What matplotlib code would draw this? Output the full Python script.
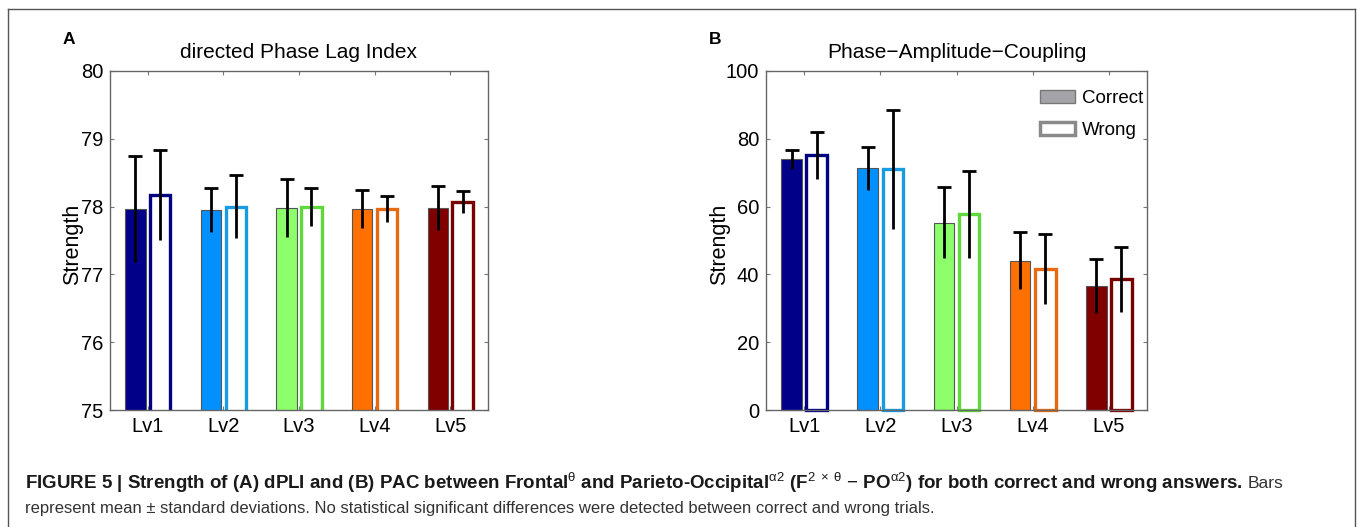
import matplotlib
matplotlib.use('Agg')
import matplotlib.pyplot as plt
from matplotlib.lines import Line2D
from matplotlib.patches import Patch
import numpy as np

plt.rcParams['font.family'] = ['Liberation Sans', 'DejaVu Sans']
plt.rcParams['mathtext.fontset'] = 'custom'
plt.rcParams['mathtext.rm'] = 'Liberation Sans'
plt.rcParams['mathtext.it'] = 'Liberation Sans'
plt.rcParams['mathtext.bf'] = 'Liberation Sans:bold'

levels = ['Lv1', 'Lv2', 'Lv3', 'Lv4', 'Lv5']
fill_colors = ['#000088', '#0090ff', '#8cff6a', '#ff7000', '#800000']
edge_colors = ['#000080', '#1a9be0', '#5fd83c', '#e66a12', '#780000']

# directed Phase Lag Index
dpli_correct = [77.96, 77.95, 77.98, 77.97, 77.98]
dpli_correct_sd = [0.78, 0.32, 0.43, 0.28, 0.33]
dpli_wrong = [78.17, 78.00, 78.00, 77.97, 78.07]
dpli_wrong_sd = [0.66, 0.46, 0.28, 0.19, 0.16]

# Phase-Amplitude-Coupling
pac_correct = [74.0, 71.3, 55.3, 44.1, 36.6]
pac_correct_sd = [2.8, 6.4, 10.6, 8.4, 7.9]
pac_wrong = [75.1, 71.0, 57.7, 41.6, 38.5]
pac_wrong_sd = [6.9, 17.5, 12.8, 10.4, 9.6]


def draw_panel(ax, correct, csd, wrong, wsd, ylim, yticks, title, clip, labx):
    x = np.arange(1, len(levels) + 1)
    w = 0.27
    off = 0.165
    ax.bar(x - off, correct, w, color=fill_colors, edgecolor='#555555',
           linewidth=0.8, zorder=2, clip_on=clip)
    ax.bar(x + off, wrong, w, color='white', edgecolor=edge_colors,
           linewidth=2.4, zorder=2, clip_on=clip)
    for xs, vals, sds in [(x - off, correct, csd), (x + off, wrong, wsd)]:
        _, caps, _ = ax.errorbar(xs, vals, yerr=sds, fmt='none', ecolor='black',
                                 elinewidth=2, capsize=5, capthick=2, zorder=3)
        for cap in caps:
            if np.mean(cap.get_ydata()) < np.mean(vals):
                cap.set_visible(False)
    ax.set_xlim(0.5, 5.5)
    ax.set_ylim(*ylim)
    ax.set_yticks(yticks)
    ax.set_xticks(x)
    ax.set_xticklabels(levels)
    ax.tick_params(direction='in', length=3, top=True, right=True,
                   labelsize=14.5, color='#777777', pad=5)
    for s in ax.spines.values():
        s.set_color('#666666')
        s.set_linewidth(1.0)
    ax.set_ylabel('Strength', fontsize=15.5)
    ax.yaxis.set_label_coords(labx, 0.49)
    ax.set_title(title, fontsize=15, pad=9)


fig = plt.figure(figsize=(13.57, 5.27), dpi=100)
ax1 = fig.add_axes([110 / 1357, 1 - 410 / 527, 378 / 1357, 339 / 527])
ax2 = fig.add_axes([766 / 1357, 1 - 410 / 527, 381 / 1357, 339 / 527])

draw_panel(ax1, dpli_correct, dpli_correct_sd, dpli_wrong, dpli_wrong_sd,
           (75, 80), [75, 76, 77, 78, 79, 80], 'directed Phase Lag Index', True,
           (83 - 110) / 378)
draw_panel(ax2, pac_correct, pac_correct_sd, pac_wrong, pac_wrong_sd,
           (0, 100), [0, 20, 40, 60, 80, 100], 'Phase\u2212Amplitude\u2212Coupling', False,
           (730 - 766) / 381)

handles = [Patch(facecolor='#a4a4a8', edgecolor='#777777', linewidth=1),
           Patch(facecolor='white', edgecolor='#8a8a8a', linewidth=2.5)]
ax2.legend(handles, ['Correct', 'Wrong'], loc='upper left', bbox_to_anchor=(0.719, 0.945),
           frameon=False, fontsize=13.5, handlelength=1.85, handleheight=0.7,
           borderpad=0, borderaxespad=0, labelspacing=0.82, handletextpad=0.4)

fig.text(63 / 1357, 1 - 40 / 527, 'A', fontsize=12.5, fontweight='bold', va='center')
fig.text(709 / 1357, 1 - 39 / 527, 'B', fontsize=12.5, fontweight='bold', va='center')

# frame around the figure
fc = '#555555'
fig.add_artist(Line2D([8 / 1357, 1355 / 1357], [1 - 9 / 527, 1 - 9 / 527], color=fc, lw=1))
fig.add_artist(Line2D([8 / 1357, 8 / 1357], [0, 1 - 9 / 527], color=fc, lw=1))
fig.add_artist(Line2D([1355 / 1357, 1355 / 1357], [0, 1 - 9 / 527], color=fc, lw=1))

cap_bold = (r'FIGURE 5 | Strength of (A) dPLI and (B) PAC between Frontal$^{\theta}$ and '
            r'Parieto-Occipital$^{\alpha 2}$ (F$^{2\ \times\ \theta}$ $-$ PO$^{\alpha 2}$) '
            r'for both correct and wrong answers.')
t1 = fig.text(25 / 1357, 1 - 483 / 527, cap_bold, fontsize=13.5, fontweight='bold',
              color='#1a1a1a', va='center')
fig.canvas.draw()
bb = t1.get_window_extent()
fig.text(bb.x1 / 1357 + 5 / 1357, 1 - 483 / 527, 'Bars', fontsize=12.5,
         color='#333333', va='center')
fig.text(25 / 1357, 1 - 508 / 527,
         'represent mean \u00b1 standard deviations. No statistical significant differences '
         'were detected between correct and wrong trials.',
         fontsize=12, color='#333333', va='center')

fig.savefig('out.png', dpi=100)
